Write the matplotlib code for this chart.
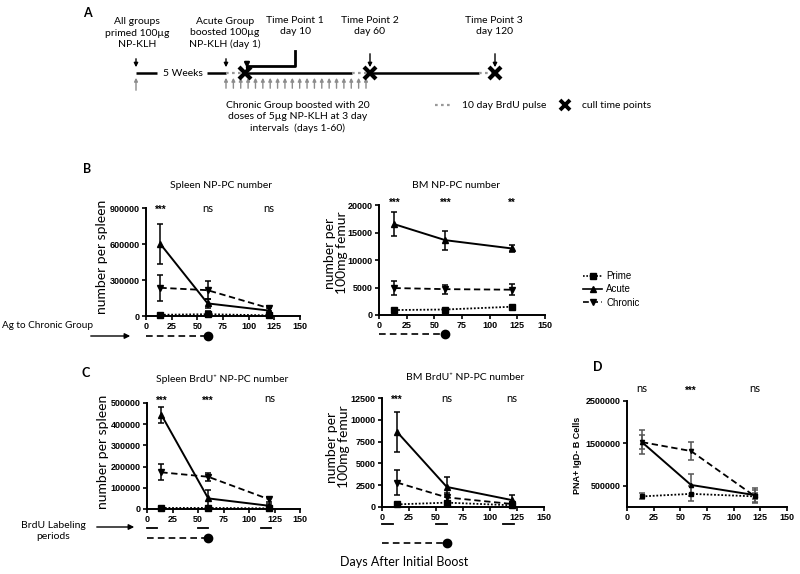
import matplotlib
matplotlib.use("Agg")
import matplotlib.pyplot as plt
import numpy as np
from matplotlib.lines import Line2D
from matplotlib.ticker import FuncFormatter
from matplotlib.transforms import blended_transform_factory

W, H = 800, 574
CAL = ["Lato", "DejaVu Sans"]          # stand-in for Calibri text
plt.rcParams["font.family"] = ["Liberation Sans", "DejaVu Sans"]

DAYS = [14, 60, 120]
GROUPS = ["Prime", "Acute", "Chronic"]

# B: spleen NP-PC number
B_SPLEEN_MEAN = {"Prime": [10000, 15000, 5000],
                 "Acute": [600000, 105000, 45000],
                 "Chronic": [235000, 215000, 65000]}
B_SPLEEN_ERR = {"Prime": [5000, 25000, 5000],
                "Acute": [170000, 40000, 20000],
                "Chronic": [110000, 75000, 22000]}
# B: BM NP-PC number
B_BM_MEAN = {"Prime": [900, 1000, 1500],
             "Acute": [16500, 13600, 12100],
             "Chronic": [4900, 4700, 4600]}
B_BM_ERR = {"Prime": [100, 100, 150],
            "Acute": [2200, 1700, 600],
            "Chronic": [1200, 800, 1000]}
# C: spleen BrdU+ NP-PC number
C_SPLEEN_MEAN = {"Prime": [5000, 5000, 3000],
                 "Acute": [445000, 50000, 15000],
                 "Chronic": [173000, 152000, 45000]}
C_SPLEEN_ERR = {"Prime": [3000, 3000, 2000],
                "Acute": [38000, 40000, 10000],
                "Chronic": [37000, 18000, 12000]}
# C: BM BrdU+ NP-PC number
C_BM_MEAN = {"Prime": [300, 500, 200],
             "Acute": [8600, 2300, 800],
             "Chronic": [2800, 1100, 350]}
C_BM_ERR = {"Prime": [100, 100, 100],
            "Acute": [2300, 1100, 550],
            "Chronic": [1400, 550, 200]}
# D: PNA+ IgD- B cells
D_MEAN = {"Prime": [250000, 310000, 250000],
          "Acute": [1530000, 520000, 280000],
          "Chronic": [1530000, 1320000, 250000]}
D_ERR = {"Prime": [70000, 180000, 70000],
         "Acute": [170000, 260000, 170000],
         "Chronic": [290000, 210000, 150000]}

SIG_B_SPLEEN = ["***", "ns", "ns"]
SIG_B_BM = ["***", "***", "**"]
SIG_C_SPLEEN = ["***", "***", "ns"]
SIG_C_BM = ["***", "ns", "ns"]
SIG_D = ["ns", "***", "ns"]

AG_PERIOD = (0, 60)
BRDU_PERIODS = [(0, 10), (50, 60), (112, 122)]

STYLE = {
    "Prime": dict(ls=(0, (1, 1)), marker="s", lw=1.3),
    "Acute": dict(ls="-", marker="^", lw=1.4),
    "Chronic": dict(ls=(0, (3.5, 2)), marker="v", lw=1.3),
}


def px_rect(l, t, r, b):
    return [l / W, 1 - b / H, (r - l) / W, (b - t) / H]


def make_axes(fig, rect, ymax, yticks):
    ax = fig.add_axes(px_rect(*rect))
    ax.set_xlim(0, 150)
    ax.set_ylim(0, ymax)
    ax.set_xticks(range(0, 151, 25))
    ax.set_yticks(yticks)
    ax.yaxis.set_major_formatter(FuncFormatter(lambda v, _: f"{int(v)}"))
    for s in ("top", "right"):
        ax.spines[s].set_visible(False)
    for s in ("left", "bottom"):
        ax.spines[s].set_linewidth(1.4)
    ax.tick_params(length=3, width=1.2, labelsize=6.5, pad=1.5)
    for lab in ax.get_xticklabels() + ax.get_yticklabels():
        lab.set_fontweight("bold")
    ax.patch.set_alpha(0)
    return ax


def draw_series(ax, mean, err, ecolor="black", ms=4):
    for g in GROUPS:
        st = STYLE[g]
        ax.errorbar(DAYS, mean[g], yerr=err[g], color="black", ecolor=ecolor,
                    ls=st["ls"], lw=st["lw"], marker=st["marker"], ms=ms,
                    elinewidth=1.1, capsize=2.5, capthick=1.1, clip_on=False,
                    zorder=3)


def draw_sig(ax, labels, yax):
    tr = blended_transform_factory(ax.transData, ax.transAxes)
    for d, s in zip(DAYS, labels):
        if s == "ns":
            ax.text(d, yax, s, transform=tr, ha="center", va="center",
                    fontsize=8, family=CAL)
        else:
            ax.text(d, yax - 0.02, s, transform=tr, ha="center", va="center",
                    fontsize=7, fontweight="bold")


def ag_line(ax, y_px):
    tr = blended_transform_factory(ax.transData, fig.transFigure)
    yf = 1 - y_px / H
    ax.plot(AG_PERIOD, [yf, yf], color="black", ls=(0, (4, 2.5)), lw=1.2,
            transform=tr, clip_on=False)
    ax.plot([AG_PERIOD[1]], [yf], "o", color="black", ms=6,
            transform=tr, clip_on=False)


def brdu_lines(ax, y_px):
    tr = blended_transform_factory(ax.transData, fig.transFigure)
    yf = 1 - y_px / H
    for a, b in BRDU_PERIODS:
        ax.plot([a, b], [yf, yf], color="black", lw=1.3, transform=tr,
                clip_on=False)


fig = plt.figure(figsize=(W / 100, H / 100), dpi=100)

# overlay in pixel coordinates for the schematic and free text
ov = fig.add_axes([0, 0, 1, 1])
ov.set_xlim(0, W)
ov.set_ylim(H, 0)
ov.axis("off")

# ---- panel A: timeline schematic ----
ty = 73
ov.text(87, 13, "A", fontsize=9, fontweight="bold", family=CAL, ha="center", va="center")
blk = dict(color="black", lw=1.8, solid_capstyle="butt")
ov.plot([136, 157], [ty, ty], **blk)
ov.text(183, ty, "5 Weeks", fontsize=7.5, family=CAL, ha="center", va="center")
ov.plot([207, 226], [ty, ty], **blk)
ov.plot([245, 352], [ty, ty], **blk)
ov.plot([370, 479], [ty, ty], **blk)
for a, b in [(226, 245), (352, 370), (479, 495)]:
    ov.plot([a, b], [ty, ty], color="#999999", lw=1.6, ls=(0, (1.2, 1.5)))
for x in [245, 370, 495]:
    ov.plot(x, ty, marker="x", ms=8, mew=3, color="black", zorder=5)
garr = dict(arrowstyle="-|>", color="#8c8c8c", lw=1.0, mutation_scale=5)
ov.annotate("", xy=(136, 75), xytext=(136, 93), arrowprops=garr)
for x in np.linspace(226, 366, 20):
    ov.annotate("", xy=(x, 75), xytext=(x, 91), arrowprops=garr)
karr = dict(arrowstyle="-|>", color="black", lw=1.0, mutation_scale=6)
for x, y0 in [(136, 56), (226, 56), (370, 51), (495, 51)]:
    ov.annotate("", xy=(x, 70), xytext=(x, y0), arrowprops=karr)
ov.plot([295, 295, 247], [51, 66, 66], color="black", lw=2)
ov.annotate("", xy=(247, 71), xytext=(247, 65), arrowprops=dict(arrowstyle="-|>", color="black", lw=1.6, mutation_scale=7))

atxt = dict(fontsize=7.5, family=CAL, ha="center", va="center", linespacing=1.3)
ov.text(137, 33, "All groups\nprimed 100µg\nNP-KLH", **atxt)
ov.text(225, 33, "Acute Group\nboosted 100µg\nNP-KLH (day 1)", **atxt)
ov.text(295, 26, "Time Point 1\nday 10", **atxt)
ov.text(370, 26, "Time Point 2\nday 60", **atxt)
ov.text(494, 26, "Time Point 3\nday 120", **atxt)
ov.text(298, 117, "Chronic Group boosted with 20\ndoses of 5µg NP-KLH at 3 day\nintervals  (days 1-60)", **atxt)
ov.plot([435, 450], [105, 105], color="#999999", lw=1.6, ls=(0, (1.2, 1.5)))
ov.text(462, 105, "10 day BrdU pulse", fontsize=7.5, family=CAL, ha="left", va="center")
ov.plot(565, 105, marker="x", ms=7, mew=2.8, color="black")
ov.text(582, 105, "cull time points", fontsize=7.5, family=CAL, ha="left", va="center")

# ---- panel B ----
ov.text(87, 169, "B", fontsize=9, fontweight="bold", family=CAL, ha="center", va="center")
ax_bs = make_axes(fig, (146, 208, 300, 316), 900000, [0, 300000, 600000, 900000])
draw_series(ax_bs, B_SPLEEN_MEAN, B_SPLEEN_ERR)
draw_sig(ax_bs, SIG_B_SPLEEN, 1.0)
ax_bb = make_axes(fig, (379, 205, 545, 315), 20000, [0, 5000, 10000, 15000, 20000])
draw_series(ax_bb, B_BM_MEAN, B_BM_ERR)
draw_sig(ax_bb, SIG_B_BM, 1.04)
ov.text(221, 185, "Spleen NP-PC number", fontsize=7.5, family=CAL, ha="center", va="center")
ov.text(456, 185, "BM NP-PC number", fontsize=7.5, family=CAL, ha="center", va="center")
ov.text(102, 257, "number per spleen", fontsize=10, family=CAL, rotation=90, ha="center", va="center")
ov.text(336, 253, "number per\n100mg femur", fontsize=10, family=CAL, rotation=90, ha="center", va="center", linespacing=1.05)
ag_line(ax_bs, 336)
ag_line(ax_bb, 334)
ov.text(48, 326, "Ag to Chronic Group", fontsize=7.2, family=CAL, ha="center", va="center")
ov.annotate("", xy=(133, 336), xytext=(88, 336), arrowprops=dict(arrowstyle="-|>", color="black", lw=1.0, mutation_scale=8))

# legend
handles = [Line2D([], [], color="black", ls=STYLE[g]["ls"], marker=STYLE[g]["marker"],
                  lw=1.2, ms=3.8) for g in GROUPS]
fig.legend(handles, GROUPS, loc="upper left", bbox_to_anchor=(583 / W, 1 - 271 / H),
           frameon=False, fontsize=7, handlelength=2.0, handletextpad=0.4,
           labelspacing=0.35, borderaxespad=0, borderpad=0)

# ---- panel C ----
ov.text(86, 373, "C", fontsize=9, fontweight="bold", family=CAL, ha="center", va="center")
ax_cs = make_axes(fig, (147, 403, 300, 509), 500000, list(range(0, 500001, 100000)))
draw_series(ax_cs, C_SPLEEN_MEAN, C_SPLEEN_ERR)
draw_sig(ax_cs, SIG_C_SPLEEN, 1.04)
ax_cb = make_axes(fig, (382, 398, 544, 507), 12500, list(range(0, 12501, 2500)))
draw_series(ax_cb, C_BM_MEAN, C_BM_ERR)
draw_sig(ax_cb, SIG_C_BM, 1.0)
ov.text(222, 379, "Spleen BrdU\u207a NP-PC number", fontsize=7.5, family=CAL, ha="center", va="center")
ov.text(465, 377, "BM BrdU\u207a NP-PC number", fontsize=7.5, family=CAL, ha="center", va="center")
ov.text(103, 452, "number per spleen", fontsize=10, family=CAL, rotation=90, ha="center", va="center")
ov.text(338, 447, "number per\n100mg femur", fontsize=10, family=CAL, rotation=90, ha="center", va="center", linespacing=1.05)
brdu_lines(ax_cs, 528)
brdu_lines(ax_cb, 524)
ag_line(ax_cs, 538)
ag_line(ax_cb, 543)
ov.text(53, 531, "BrdU Labeling\nperiods", fontsize=7.5, family=CAL, ha="center", va="center", linespacing=1.3)
ov.annotate("", xy=(137, 527), xytext=(94, 527), arrowprops=dict(arrowstyle="-|>", color="black", lw=1.0, mutation_scale=8))

# ---- panel D ----
ov.text(598, 367, "D", fontsize=9, fontweight="bold", family=CAL, ha="center", va="center")
ax_d = make_axes(fig, (627, 401, 787, 507), 2500000, [500000, 1500000, 2500000])
draw_series(ax_d, D_MEAN, D_ERR, ecolor="#555555", ms=3)
draw_sig(ax_d, SIG_D, 1.12)
ov.text(577, 455, "PNA+ IgD- B Cells", fontsize=6.5, fontweight="bold", rotation=90, ha="center", va="center")

ov.text(404, 562, "Days After Initial Boost", fontsize=9, family=CAL, ha="center", va="center")

fig.savefig("out.png", dpi=100)
